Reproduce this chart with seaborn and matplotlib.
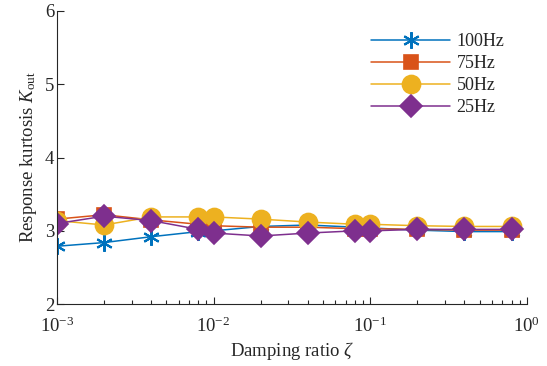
import matplotlib
matplotlib.use("Agg")
import matplotlib.pyplot as plt
import seaborn as sns
import pandas as pd
import numpy as np
from matplotlib.ticker import LogLocator, FixedLocator

damping = [0.001, 0.002, 0.004, 0.008, 0.01, 0.02, 0.04, 0.08, 0.1, 0.2, 0.4, 0.8]
k_100 = [2.79, 2.84, 2.92, 2.99, 3.00, 3.06, 3.08, 3.05, 3.04, 3.01, 2.99, 2.99]
k_75 = [3.16, 3.22, 3.15, 3.09, 3.07, 3.05, 3.05, 3.03, 3.03, 3.02, 3.01, 3.01]
k_50 = [3.14, 3.08, 3.19, 3.19, 3.19, 3.16, 3.12, 3.09, 3.09, 3.07, 3.06, 3.06]
k_25 = [3.10, 3.20, 3.14, 3.02, 2.97, 2.93, 2.97, 3.00, 3.00, 3.02, 3.02, 3.02]
series_names = ["100Hz", "75Hz", "50Hz", "25Hz"]

sns.set_theme(style="white")
plt.rcParams["font.family"] = ["Liberation Serif", "DejaVu Serif"]
plt.rcParams["mathtext.fontset"] = "custom"
plt.rcParams["mathtext.rm"] = "Liberation Serif"
plt.rcParams["mathtext.it"] = "Liberation Serif:italic"

rows = []
for name, vals in zip(series_names, [k_100, k_75, k_50, k_25]):
    for d, v in zip(damping, vals):
        rows.append({"damping": d, "k": v, "freq": name})
df = pd.DataFrame(rows)

colors = {"100Hz": "#0072BD", "75Hz": "#D95319", "50Hz": "#EDB120", "25Hz": "#7E2F8E"}
markers = {"100Hz": "*", "75Hz": "s", "50Hz": "o", "25Hz": "D"}
msizes = {"100Hz": 13, "75Hz": 10, "50Hz": 13, "25Hz": 11}

fig = plt.figure(figsize=(5.47, 3.66), dpi=100)
ax = fig.add_axes([0.104, 0.169, 0.859, 0.801])

for name in series_names:
    sub = df[df["freq"] == name]
    sns.lineplot(data=sub, x="damping", y="k", ax=ax, color=colors[name],
                 marker=markers[name], markersize=msizes[name],
                 markeredgecolor=colors[name], markeredgewidth=1.2 if name != "100Hz" else 1.5,
                 linewidth=1.1, label=name, estimator=None, sort=False)

# asterisk marker style for 100Hz
ax.lines[0].set_marker((6, 2, 0))
ax.lines[0].set_markersize(12)

ax.set_xscale("log")
ax.set_xlim(1e-3, 1)
ax.set_ylim(2, 6)
ax.yaxis.set_major_locator(FixedLocator([2, 3, 4, 5, 6]))
ax.xaxis.set_major_locator(LogLocator(base=10, numticks=10))
ax.xaxis.set_minor_locator(LogLocator(base=10, subs=np.arange(2, 10), numticks=20))

for s in ["top", "right"]:
    ax.spines[s].set_visible(False)
for s in ["left", "bottom"]:
    ax.spines[s].set_color("#262626")
    ax.spines[s].set_linewidth(0.8)

ax.tick_params(axis="both", which="both", direction="in", colors="#262626",
               labelsize=13.5, labelcolor="#262626")
ax.tick_params(axis="both", which="major", length=5, width=0.8, bottom=True, left=True)
ax.tick_params(axis="x", which="minor", length=3, width=0.8, bottom=True)
ax.tick_params(axis="y", pad=2)
ax.tick_params(axis="x", pad=9)

ax.set_xlabel(r"Damping ratio $\zeta$", fontsize=13.5, color="#262626", labelpad=3)
ax.set_ylabel(r"Response kurtosis $K_{\mathrm{out}}$", fontsize=13.5, color="#262626", labelpad=4)

leg = ax.legend(loc="upper left", bbox_to_anchor=(0.645, 0.962), frameon=False,
                fontsize=13, handlelength=4.4, labelspacing=0.28, handletextpad=0.35,
                borderaxespad=0.2)
for h in leg.legend_handles:
    h.set_linewidth(1.1)
leg.legend_handles[0].set_marker((6, 2, 0))

fig.savefig("out.png", dpi=100, facecolor="white")
